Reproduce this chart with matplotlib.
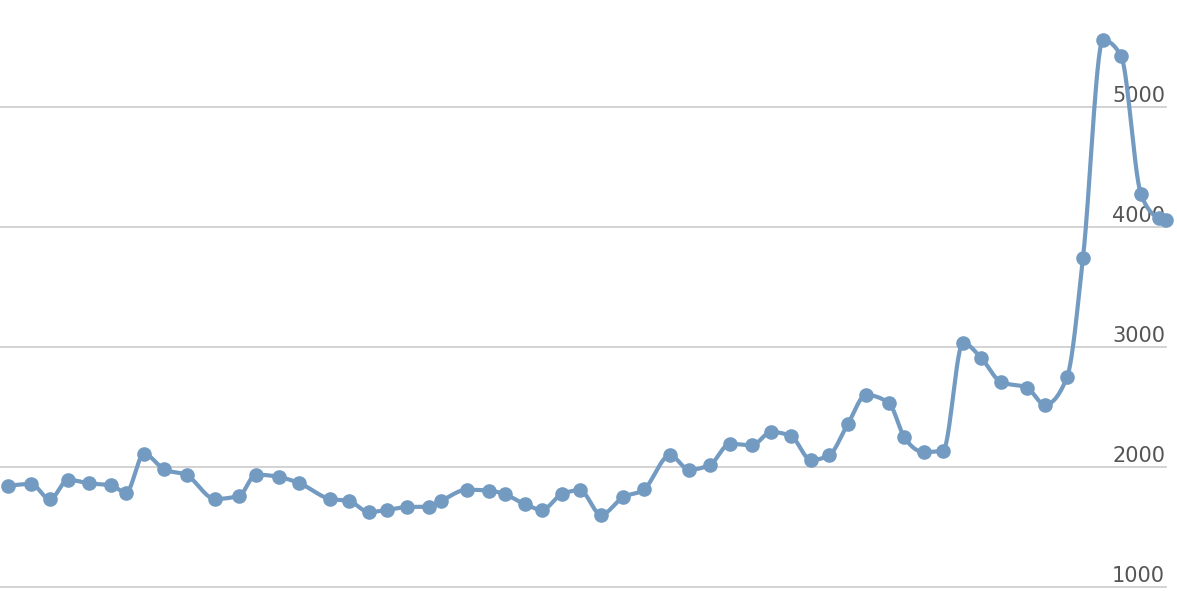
import numpy as np
import matplotlib
matplotlib.use('Agg')
import matplotlib.pyplot as plt

# position along the time axis (irregular spacing) and values
t = [8, 31, 50, 68, 89, 111, 126, 144, 164, 187,
     215, 239, 256, 279, 299, 330, 349, 369, 387, 407,
     429, 441, 467, 489, 505, 525, 542, 562, 580, 601,
     623, 644, 670, 689, 710, 730, 752, 771, 791, 811,
     829, 848, 866, 889, 904, 924, 943, 963, 981, 1001,
     1027, 1045, 1067, 1083, 1103, 1121, 1141, 1159, 1166]
values = [1846, 1863, 1735, 1898, 1868, 1852, 1790, 2113, 1985, 1935,
          1738, 1763, 1940, 1921, 1871, 1738, 1721, 1629, 1646, 1671,
          1673, 1721, 1815, 1807, 1777, 1693, 1648, 1779, 1810, 1607,
          1752, 1818, 2102, 1982, 2023, 2198, 2185, 2296, 2262, 2062,
          2102, 2365, 2604, 2537, 2257, 2129, 2140, 3037, 2915, 2712,
          2665, 2523, 2752, 3748, 5562, 5432, 4277, 4077, 4062]
ticks = [1000, 2000, 3000, 4000, 5000]

line_color = '#739bc2'


def monotone(x, y, n=30):
    # monotone cubic like d3.curveMonotoneX
    x = np.asarray(x, float)
    y = np.asarray(y, float)
    h = np.diff(x)
    s = np.diff(y) / h
    m = np.zeros(len(x))
    for i in range(1, len(x) - 1):
        s0, s1 = s[i - 1], s[i]
        p = (s0 * h[i] + s1 * h[i - 1]) / (h[i - 1] + h[i])
        m[i] = (np.sign(s0) + np.sign(s1)) * min(abs(s0), abs(s1), 0.5 * abs(p))
    m[0] = (3 * s[0] - m[1]) / 2
    m[-1] = (3 * s[-1] - m[-2]) / 2
    xs, ys = [], []
    for i in range(len(x) - 1):
        u = np.linspace(0, 1, n)
        h00 = 2 * u**3 - 3 * u**2 + 1
        h10 = u**3 - 2 * u**2 + u
        h01 = -2 * u**3 + 3 * u**2
        h11 = u**3 - u**2
        xs.append(x[i] + u * h[i])
        ys.append(h00 * y[i] + h10 * h[i] * m[i] + h01 * y[i + 1] + h11 * h[i] * m[i + 1])
    return np.concatenate(xs), np.concatenate(ys)


fig = plt.figure(figsize=(11.77, 6.01), dpi=100)
ax = fig.add_axes([0, 0, 1, 1])
ax.set_xlim(0, 1177)
ax.set_ylim(887.5, 5895.8)
ax.axis('off')

for v in ticks:
    ax.axhline(v, xmin=0, xmax=1166 / 1177, color='#d0d0d0', lw=1.3, zorder=1)
    ax.annotate(str(v), (1165, v), xytext=(0, 3.6), textcoords='offset points',
                ha='right', va='baseline', fontsize=15, color='#555555', zorder=2)

xs, ys = monotone(t, values)
ax.plot(xs, ys, color=line_color, lw=3, zorder=3, solid_capstyle='round')
ax.plot(t, values, 'o', color=line_color, ms=9.5, zorder=4)

fig.savefig('out.png', dpi=100)
